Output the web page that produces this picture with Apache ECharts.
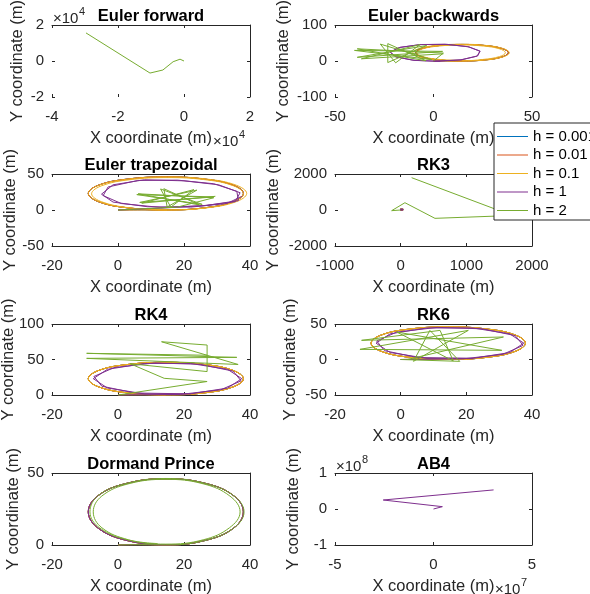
<!DOCTYPE html>
<html><head><meta charset="utf-8">
<script src="https://cdn.jsdelivr.net/npm/echarts@6/dist/echarts.min.js"></script>
<style>html,body{margin:0;padding:0;background:#fff}#c{width:590px;height:594px}</style>
</head><body><div id="c"></div>
<script>
// ---------------- data ----------------
const seriesNames = ['h = 0.001', 'h = 0.01', 'h = 0.1', 'h = 1', 'h = 2'];
const plotTitles = ['Euler forward', 'Euler backwards', 'Euler trapezoidal', 'RK3', 'RK4', 'RK6', 'Dormand Prince', 'AB4'];
// [min, max, interval] of each subplot axis
const xTicks = [[-40000, 20000, 20000], [-50, 50, 50], [-20, 40, 20], [-1000, 2000, 1000], [-20, 40, 20], [-20, 40, 20], [-20, 40, 20], [-50000000, 50000000, 50000000]];
const yTicks = [[-20000, 20000, 20000], [-100, 100, 100], [-50, 50, 50], [-2000, 2000, 2000], [0, 100, 50], [-50, 50, 50], [0, 50, 50], [-100000000, 100000000, 100000000]];
const xExponent = [4, 0, 0, 0, 0, 0, 0, 7];
const yExponent = [4, 0, 0, 0, 0, 0, 0, 8];

// reference trajectory (small step sizes)
const circleA = [[0,0],[7,0.2],[14.5,0],[26.3,3.1],[34.9,11.5],[38,23],[34.9,34.5],[26.3,42.9],[14.5,46],[2.8,42.9],[-5.9,34.5],[-9,23],[-5.9,11.5],[2.8,3.1],[14.5,0],[26.3,3.1],[34.9,11.5],[38,23],[34.9,34.5],[26.3,42.9],[14.5,46],[2.8,42.9],[-5.9,34.5],[-9,23],[-5.9,11.5],[2.8,3.1],[14.5,0]];
const greenEF = [[0,0],[-1200,1000],[-3300,-400],[-6400,-5000],[-10300,-6700],[-29700,15600]];
const yellowEB = [[0,0],[7,0.1],[14,0],[26.3,2.6],[35.2,11.3],[38.5,23],[35.2,34.8],[26.3,43.4],[14,46.5],[1.8,43.4],[-7.2,34.8],[-10.5,23],[-7.2,11.3],[1.8,2.6],[14,0.5],[25.3,4.4],[33.5,12.3],[36.5,23],[33.5,33.8],[25.3,41.6],[14,44.5],[2.8,41.6],[-5.5,33.8],[-8.5,23],[-5.5,12.3],[2.8,4.4],[14,1.5]];
const purpleEB = [[0,0],[13.5,2.9],[22,13.2],[23.7,26.7],[18.1,39.1],[7,46.2],[-6.1,45.8],[-16.9,38.1],[-21.9,25.5],[-19.5,12.1],[-10.5,2.2],[2.2,-1],[14.5,3.6],[22.5,14.4],[23.5,28],[17.3,40],[5.8,46.5],[-7.2,45.4],[-17.6,37.1],[-22,24.3],[-18.9,11],[-9.4,1.6],[3.4,-0.9]];
const greenEB = [[0,0],[5,22],[-38.7,33.8],[-3.8,0.7],[-23.2,48.3],[-23.2,-4.3],[-3.5,43],[-38.7,10.2],[4.6,26.7],[-40.1,29.4],[-0.9,3.9],[-27,46.9],[-19.2,-5],[-6.8,45.6],[-36.6,6.1],[5,20]];
const yellowET = [[0,0],[7,0.2],[15,0],[26.5,3],[34.9,11.3],[38,22.5],[34.9,33.8],[26.5,42],[15,45],[3.5,42],[-4.9,33.8],[-8,22.5],[-4.9,11.3],[3.5,3],[15,0],[27,3.1],[35.8,11.5],[39,23],[35.8,34.5],[27,42.9],[15,46],[3,42.9],[-5.8,34.5],[-9,23],[-5.8,11.5],[3,3.1],[15,0]];
const purpleET = [[0,0],[13,2.5],[27,6.5],[36.5,13],[36,26],[29,36.5],[18,41.5],[6,41],[-3,32],[-4.5,20],[1,9],[13,3.5],[26,6],[35.5,11.5],[37,24],[30.5,35],[20,40.5],[8,42],[-1.5,35],[-5,22],[-1.5,11],[9,4.5],[22,4],[33,9],[37.5,19]];
const greenET = [[0,0],[18,4],[29,17],[6.1,22.5],[24.7,7],[13.9,29.6],[14.9,4.2],[23.9,27.6],[6.6,10.5],[29,18.1],[5.7,21.4],[25.5,7.8],[12.9,29.2],[16,4],[23,28.3],[7.2,9.5],[29.5,19]];
const greenRK3 = [[0,0],[-137,-37],[65,405],[522,-463],[1700,-305],[167,1796]];
const purpleRK = [[0,0],[18.9,0.8],[31.2,7.4],[37.3,19.9],[34.9,33.6],[24.9,43.2],[11.1,45.2],[-1.2,38.6],[-7.3,26.1],[-4.9,12.4],[5.1,2.8],[22,1.6],[33.2,9.8],[37.5,23],[33.2,36.2],[22,44.4],[8,44.4],[-3.2,36.2],[-7.5,23],[-3.2,9.8],[8,1.6],[22,1.6]];
const greenRK4 = [[0,0],[27,19],[14,23.5],[3.7,44],[27,33],[27,70.4],[13.2,75],[36.4,43],[-9.5,51.6],[36,53],[-9.5,58.7],[27,56]];
const greenRK6 = [[0,0],[18,-2.6],[8.9,41],[3.9,-2.6],[20.6,41],[-12.4,14.3],[30.8,12.9],[-1.2,38.7],[16,-2],[12,41],[-11.9,27],[31.3,31.7],[2,0]];
const greenDP = [[0,0],[7,0.2],[14.5,0],[26.3,3.1],[34.9,11.5],[38.2,23],[34.9,34.5],[26.3,42.9],[14.5,46.2],[2.8,42.9],[-5.9,34.5],[-8.5,23],[-5.5,11.8],[3.2,3.4],[14.5,0.6],[25.8,3.6],[33.8,12],[37,23],[33.9,34],[25.8,42.5],[14.5,45.6],[3.2,42.5],[-4.9,34],[-7.5,23],[-4.9,12],[3.2,3.6],[12,1]];
const purpleAB4 = [[0,0],[4500000,6500000],[-25500000,25000000],[30500000,53000000]];

// per subplot: [h=0.001, h=0.01, h=0.1, h=1, h=2]
const plotData = [
  [circleA, circleA, circleA, [], greenEF],
  [circleA, circleA, yellowEB, purpleEB, greenEB],
  [circleA, circleA, yellowET, purpleET, greenET],
  [circleA, circleA, circleA, circleA, greenRK3],
  [circleA, circleA, circleA, purpleRK, greenRK4],
  [circleA, circleA, circleA, purpleRK, greenRK6],
  [circleA, circleA, circleA, circleA, greenDP],
  [circleA, circleA, circleA, purpleAB4, []]
];
const smoothArrays = [circleA, yellowEB, yellowET, greenDP];

// ---------------- layout / style ----------------
const colors = ['#0072BD', '#D95319', '#EDB120', '#7E2F8E', '#77AC30'];
const FONT = '"Liberation Sans", Arial, Helvetica, sans-serif';
const AX = '#262626';
const colLeft = [52, 335], colWidth = [198, 197];
const rowTop = [25, 174, 324, 473], rowHeight = [72, 72, 71, 72];
const yNameX = [17, 283, 10, 273, 8, 290, 13, 293];

const grids = [], xAxes = [], yAxes = [], series = [], graphics = [];
for (let p = 0; p < 8; p++) {
  const c = p % 2, r = Math.floor(p / 2);
  const L = colLeft[c], W = colWidth[c], T = rowTop[r], H = rowHeight[r];
  grids.push({ left: L, top: T, width: W, height: H, containLabel: false, outerBoundsMode: 'none' });
  const xs = xExponent[p] ? Math.pow(10, xExponent[p]) : 1;
  const ys = yExponent[p] ? Math.pow(10, yExponent[p]) : 1;
  const fmt = s => (v => String(Math.round(v / s * 1000) / 1000));
  const tick = { show: true, inside: true, length: 3, lineStyle: { color: AX, width: 1 } };
  const line = { show: true, onZero: false, lineStyle: { color: AX, width: 1 } };
  const base = (t) => ({ type: 'value', gridIndex: p, min: t[0], max: t[1], interval: t[2], splitLine: { show: false }, axisTick: tick });
  xAxes.push(Object.assign(base(xTicks[p]), { position: 'bottom', axisLine: Object.assign({}, line, { show: r > 0 }),
    axisLabel: { margin: 12, fontSize: 15, fontFamily: FONT, color: AX, formatter: fmt(xs) } }));
  xAxes.push(Object.assign(base(xTicks[p]), { position: 'top', axisLine: line, axisLabel: { show: false } }));
  yAxes.push(Object.assign(base(yTicks[p]), { position: 'left', axisLine: { show: false, onZero: false },
    axisLabel: { margin: 8, fontSize: 15, fontFamily: FONT, color: AX, formatter: fmt(ys) } }));
  yAxes.push(Object.assign(base(yTicks[p]), { position: 'right', axisLine: line, axisLabel: { show: false } }));
  for (let k = 0; k < 5; k++) {
    const d = plotData[p][k];
    series.push({ type: 'line', name: seriesNames[k], xAxisIndex: 2 * p, yAxisIndex: 2 * p, data: d,
      symbol: 'none', smooth: smoothArrays.includes(d) ? 0.4 : false, z: 2 + k, silent: true,
      lineStyle: { width: 1, color: colors[k] }, itemStyle: { color: colors[k] } });
  }
  // title
  graphics.push({ type: 'text', x: L + W / 2, y: T - 9, style: { text: plotTitles[p], font: 'bold 16.5px ' + FONT, fill: '#000', textAlign: 'center', textVerticalAlign: 'middle' } });
  // axis names
  graphics.push({ type: 'text', x: L + W / 2, y: T + H + 41, style: { text: 'X coordinate (m)', font: '16.5px ' + FONT, fill: AX, textAlign: 'center', textVerticalAlign: 'middle' } });
  graphics.push({ type: 'text', x: yNameX[p], y: T + H / 2, rotation: Math.PI / 2, style: { text: 'Y coordinate (m)', font: '16.5px ' + FONT, fill: AX, textAlign: 'center', textVerticalAlign: 'middle' } });
  if (yExponent[p]) {
    graphics.push({ type: 'text', x: L + 1, y: T - 6.5, style: { text: '\u00d710', font: '15px ' + FONT, fill: AX, textAlign: 'left', textVerticalAlign: 'middle' } });
    graphics.push({ type: 'text', x: L + 27, y: T - 13, style: { text: String(yExponent[p]), font: '11px ' + FONT, fill: AX, textAlign: 'left', textVerticalAlign: 'middle' } });
  }
  if (xExponent[p]) {
    graphics.push({ type: 'text', x: L + W - 37, y: T + H + 45, style: { text: '\u00d710', font: '15px ' + FONT, fill: AX, textAlign: 'left', textVerticalAlign: 'middle' } });
    graphics.push({ type: 'text', x: L + W - 11, y: T + H + 38, style: { text: String(xExponent[p]), font: '11px ' + FONT, fill: AX, textAlign: 'left', textVerticalAlign: 'middle' } });
  }
}

const chart = echarts.init(document.getElementById('c'), null, { renderer: 'canvas', width: 590, height: 594 });
chart.setOption({
  animation: false,
  backgroundColor: '#fff',
  grid: grids, xAxis: xAxes, yAxis: yAxes, series: series, graphic: graphics,
  legend: {
    data: seriesNames, orient: 'vertical', left: 494, top: 123, selectedMode: false,
    icon: 'rect', itemWidth: 31, itemHeight: 1, itemGap: 3.5, z: 20,
    backgroundColor: '#fff', borderColor: AX, borderWidth: 1, padding: [6, 20, 2, 3],
    textStyle: { fontSize: 15, fontFamily: FONT, color: '#000', lineHeight: 14.5 }
  }
});
</script></body></html>
